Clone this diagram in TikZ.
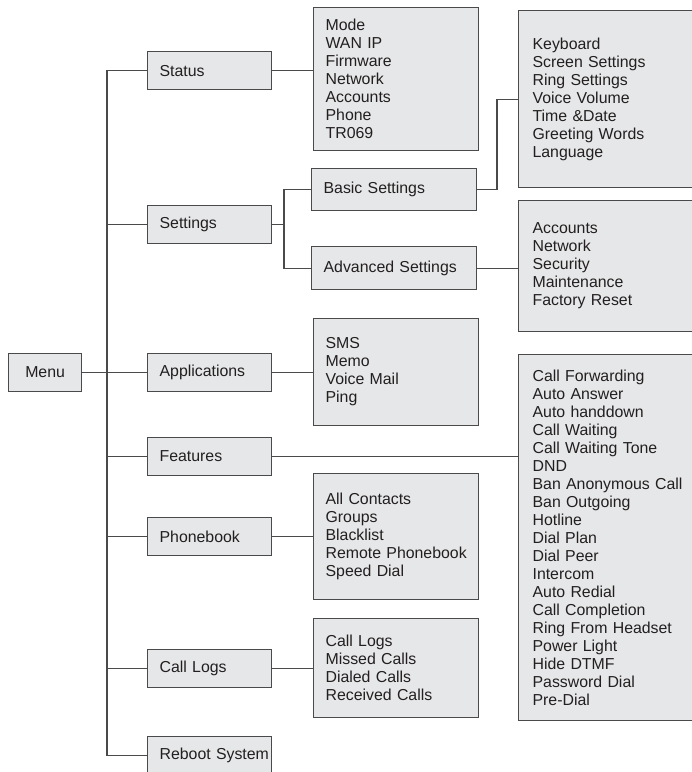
\documentclass[tikz,border=0pt]{standalone}
\usepackage{fontspec}
\setmainfont{Liberation Sans}

\definecolor{boxgray}{HTML}{E6E7E8}
\definecolor{linegray}{HTML}{4A4A4A}
\definecolor{inkblack}{HTML}{231F20}

\tikzset{
    menubox/.style={draw=linegray, fill=boxgray, line width=0.9pt, text=inkblack,
        inner sep=0pt, anchor=north west, font=\fontsize{11.9}{13.5}\selectfont},
    lvlone/.style={menubox, inner xsep=9pt, text width=75pt, align=left, minimum height=28.5pt},
    lvltwo/.style={menubox, inner xsep=9pt, text width=105.75pt, align=left, minimum height=#1},
    lvlthree/.style={menubox, inner xsep=10.5pt, text width=121.5pt, align=left, minimum height=#1},
    link/.style={draw=linegray, line width=0.9pt},
}

\begin{document}
\begin{tikzpicture}[x=0.75pt, y=-0.75pt] % phone menu tree
    \useasboundingbox (0,0) rectangle (692,772);
    \clip (0,0) rectangle (692,772);

    % root and first level
    \node [menubox, minimum width=54.75pt, minimum height=28.5pt] (menu) at (8,353) {Menu};
    \node [lvlone] (status) at (147,51) {Status};
    \node [lvlone] (settings) at (147,205) {Settings};
    \node [lvlone] (apps) at (147,353) {Applications};
    \node [lvlone] (features) at (147,437) {Features};
    \node [lvlone] (phonebook) at (147,517) {Phonebook};
    \node [lvlone] (calllogs) at (147,649) {Call Logs};
    \node [lvlone] (reboot) at (147,736) {\mbox{Reboot System}};

    % second level
    \node [lvltwo=107.25pt] (statuskids) at (313,7)
        {Mode\\WAN IP\\Firmware\\Network\\Accounts\\Phone\\TR069};
    \node [lvltwo=31.5pt] (basic) at (311,168) {Basic Settings};
    \node [lvltwo=32.25pt] (advanced) at (311,246) {Advanced Settings};
    \node [lvltwo=80.25pt] (appkids) at (313,318) {SMS\\Memo\\Voice Mail\\Ping};
    \node [lvltwo=94.5pt] (phonekids) at (313,473)
        {All Contacts\\Groups\\Blacklist\\\mbox{Remote Phonebook}\\Speed Dial};
    \node [lvltwo=74.25pt] (logkids) at (313,618)
        {Call Logs\\Missed Calls\\Dialed Calls\\Received Calls};

    % third level
    \node [lvlthree=132.75pt] (basickids) at (518,10)
        {Keyboard\\Screen Settings\\Ring Settings\\Voice Volume\\Time \&Date\\Greeting Words\\Language};
    \node [lvlthree=98.25pt] (advkids) at (518,200)
        {Accounts\\Network\\Security\\Maintenance\\Factory Reset};
    \node [lvlthree=274.5pt] (featkids) at (518,354)
        {Call Forwarding\\Auto Answer\\Auto handdown\\Call Waiting\\Call Waiting Tone\\DND\\
         \mbox{Ban Anonymous Call}\\Ban Outgoing\\Hotline\\Dial Plan\\Dial Peer\\Intercom\\Auto Redial\\
         Call Completion\\Ring From Headset\\Power Light\\Hide DTMF\\Password Dial\\Pre-Dial};

    % connectors
    \coordinate (trunk) at (107,0);
    \coordinate (setjoin) at (284,0);
    \coordinate (basicjoin) at (497,0);

    \draw [link] (menu.east) -- (apps.west);
    \draw [link] (status.west) -- (status.west -| trunk) -- (reboot.west -| trunk) -- (reboot.west);
    \foreach \n in {settings,features,phonebook,calllogs}
        \draw [link] (\n.west) -- (\n.west -| trunk);

    \draw [link] (status.east) -- (status.east -| statuskids.west);
    \draw [link] (settings.east) -- (settings.east -| setjoin);
    \draw [link] (basic.west) -- (basic.west -| setjoin) -- (advanced.west -| setjoin) -- (advanced.west);
    \draw [link] (basic.east) -| (basicjoin |- basickids.west) -- (basickids.west);
    \draw [link] (advanced.east) -- (advanced.east -| advkids.west);
    \draw [link] (apps.east) -- (apps.east -| appkids.west);
    \draw [link] (features.east) -- (features.east -| featkids.west);
    \draw [link] (phonebook.east) -- (phonebook.east -| phonekids.west);
    \draw [link] (calllogs.east) -- (calllogs.east -| logkids.west);
\end{tikzpicture}
\end{document}
